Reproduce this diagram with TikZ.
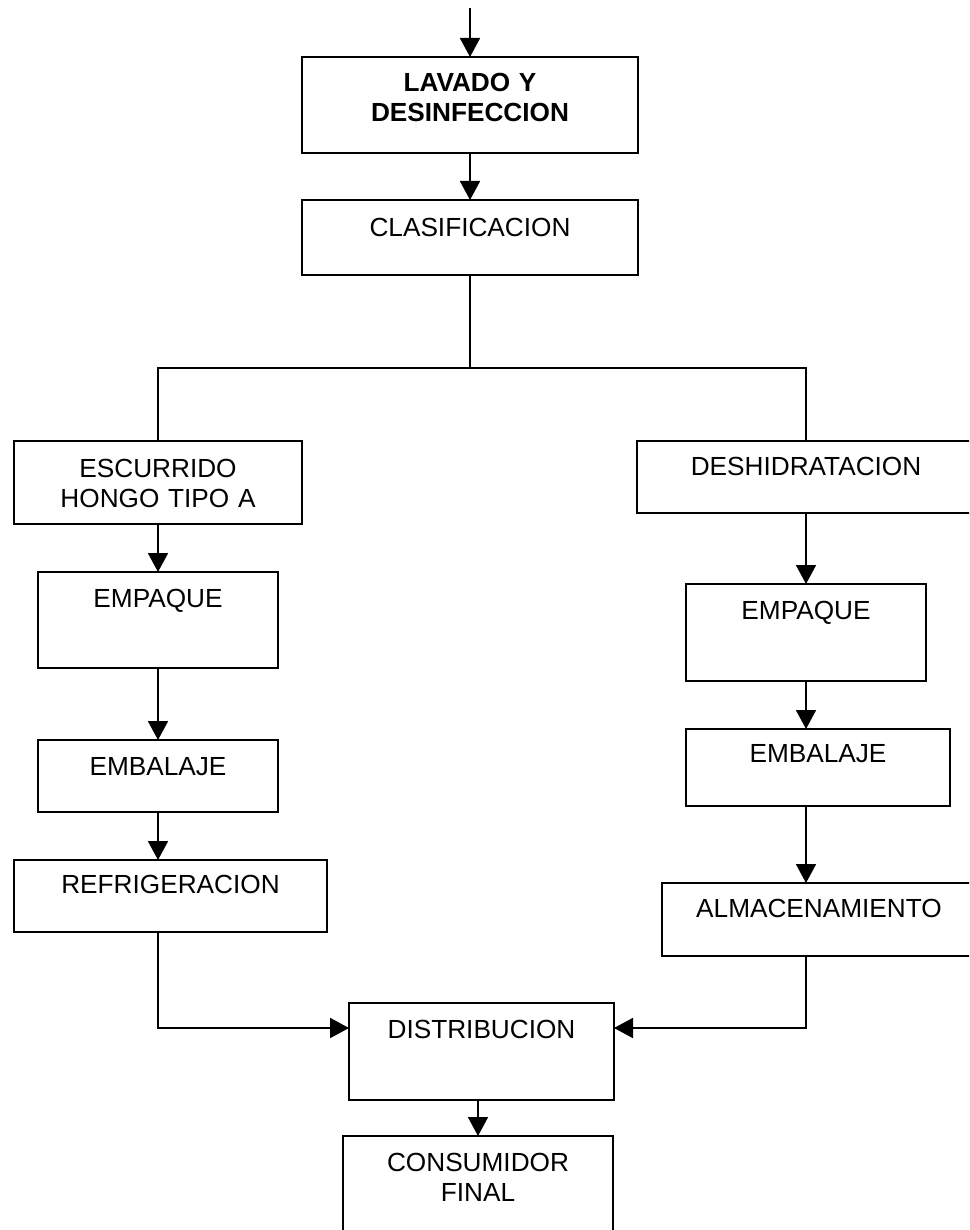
\documentclass[tikz,border=0pt]{standalone}
\usepackage{fontspec}
\setmainfont{Liberation Sans}
\usetikzlibrary{arrows.meta, positioning}

\begin{document}
\begin{tikzpicture}[x=1pt, y=-1pt,
        box/.style n args={3}{rectangle, draw=black, line width=1.8pt, anchor=north west, inner sep=0pt, outer sep=0pt, align=center, text width=#1, text height=#2, text depth=#3, font=\fontsize{26.2}{30}\selectfont},
        arr/.style={-{Triangle[length=19pt, width=20pt]}, line width=1.8pt},
        ln/.style={line width=1.8pt}
    ]
    \clip (0,0) rectangle (969,1230);

    % Tronco comun
    \node[box={336pt}{35pt}{61pt}, font=\fontsize{26.2}{30}\selectfont\bfseries] (lav) at (302,57) {LAVADO Y\\DESINFECCION};
    \node[box={336pt}{37pt}{38pt}] (clas) at (302,200) {CLASIFICACION};

    % Rama izquierda
    \node[box={288pt}{36pt}{47pt}] (esc) at (14,441) {ESCURRIDO\\HONGO TIPO A};
    \node[box={240pt}{35pt}{61pt}] (emp1) at (38,572) {EMPAQUE};
    \node[box={240pt}{35pt}{37pt}] (emb1) at (38,740) {EMBALAJE};
    \node[box={313pt}{33pt}{39pt}] (ref) at (14,860) {REFRIGERACION};

    % Rama derecha
    \node[box={338pt}{34pt}{38pt}] (desh) at (637,441) {DESHIDRATACION};
    \node[box={240pt}{35pt}{62pt}] (emp2) at (686,584) {EMPAQUE};
    \node[box={264pt}{33pt}{44pt}] (emb2) at (686,729) {EMBALAJE};
    \node[box={314pt}{34pt}{39pt}] (alm) at (662,883) {ALMACENAMIENTO};

    % Salida
    \node[box={265pt}{35pt}{62pt}] (dist) at (349,1003) {DISTRIBUCION};
    \node[box={270pt}{35pt}{85pt}] (cons) at (343,1136) {CONSUMIDOR\\FINAL};

    % Entrada
    \coordinate (in) at ([yshift=49pt]lav.north);
    \draw[arr] (in) -- (lav.north);
    \draw[arr] (lav.south) -- (clas.north);

    % Division
    \coordinate (split) at ([yshift=73pt]desh.north);
    \draw[ln] (clas.south) -- (clas.south |- split);
    \draw[ln] (esc.north) |- (split) -- (desh.north);

    % Izquierda
    \draw[arr] (esc.south) -- (emp1.north);
    \draw[arr] (emp1.south) -- (emb1.north);
    \draw[arr] (emb1.south) -- (emb1.south |- ref.north);
    \draw[arr] (emb1.south |- ref.south) |- ([yshift=23.5pt]dist.west);

    % Derecha
    \draw[arr] (desh.south) -- (emp2.north);
    \draw[arr] (emp2.south) -- (emp2.south |- emb2.north);
    \draw[arr] (emp2.south |- emb2.south) -- (emp2.south |- alm.north);
    \draw[arr] (emp2.south |- alm.south) |- ([yshift=23.5pt]dist.east);

    \draw[arr] (cons.north |- dist.south) -- (cons.north);
\end{tikzpicture}
\end{document}
